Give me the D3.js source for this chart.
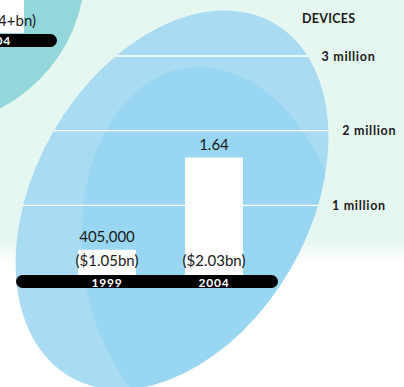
<!DOCTYPE html>
<html>
<head>
<meta charset="utf-8">
<script src="https://cdn.jsdelivr.net/npm/d3@7"></script>
<style>
  body { margin: 0; background: #fff; }
  text { font-family: Lato, "Open Sans", sans-serif; }
</style>
</head>
<body>
<svg></svg>
<script>
// chart values
var years = ["1999", "2004"];
var devices = [405000, 1640000];
var deviceLabels = ["405,000", "1.64"];
var revenueLabels = ["($1.05bn)", "($2.03bn)"];
var gridValues = [1e6, 2e6, 3e6];
var gridLabels = ["1 million", "2 million", "3 million"];

var svgWidth = 404,
    svgHeight = 387;

// big tilted ellipse behind the chart
var blob = { cx: 172, cy: 200, rx: 137, ry: 204, rot: 30 };

/**
 * x where a horizontal line at y leaves the tilted ellipse
 */
function blobEdges(y) {
    var t = blob.rot * Math.PI / 180,
        c = Math.cos(t), s = Math.sin(t),
        rx2 = blob.rx * blob.rx, ry2 = blob.ry * blob.ry,
        dy = y - blob.cy;
    var a = c * c / rx2 + s * s / ry2,
        b = 2 * dy * (c * s / rx2 - s * c / ry2),
        k = dy * dy * (s * s / rx2 + c * c / ry2) - 1;
    var d = Math.sqrt(b * b - 4 * a * k);
    return [blob.cx + (-b - d) / (2 * a), blob.cx + (-b + d) / (2 * a)];
}

var svg = d3.select('svg')
    .attr('width', svgWidth)
    .attr('height', svgHeight);

var defs = svg.append('defs');
var grad = defs.append('linearGradient')
    .attr('id', 'bg')
    .attr('x1', 0).attr('y1', 0).attr('x2', 0).attr('y2', 1);
grad.append('stop').attr('offset', '0.62').attr('stop-color', '#e6f7f1');
grad.append('stop').attr('offset', '0.68').attr('stop-color', '#ffffff');

defs.append('clipPath')
    .attr('id', 'blobClip')
    .append('ellipse')
    .attr('cx', blob.cx).attr('cy', blob.cy)
    .attr('rx', blob.rx).attr('ry', blob.ry)
    .attr('transform', 'rotate(' + blob.rot + ',' + blob.cx + ',' + blob.cy + ')');

svg.append('rect')
    .attr('width', svgWidth)
    .attr('height', svgHeight)
    .attr('fill', 'url(#bg)');

// leftover of the previous panel, top left (cut by the edge as in the original)
svg.append('circle')
    .attr('cx', -70).attr('cy', -30).attr('r', 155)
    .attr('fill', '#94d7db');
svg.append('rect')
    .attr('x', -10).attr('y', -5).attr('width', 34).attr('height', 38)
    .attr('fill', '#fff');
svg.append('text')
    .attr('x', 36).attr('y', 26)
    .attr('text-anchor', 'end')
    .attr('font-size', 15)
    .attr('fill', '#1a1a1a')
    .text('($4+bn)');
svg.append('rect')
    .attr('x', -120).attr('y', 34).attr('width', 177).attr('height', 13)
    .attr('rx', 6.5)
    .attr('fill', '#000');
svg.append('text')
    .attr('x', 11).attr('y', 45)
    .attr('text-anchor', 'end')
    .attr('font-size', 12)
    .attr('font-weight', 'bold')
    .attr('letter-spacing', 0.8)
    .attr('fill', '#fff')
    .text('2004');

// ellipses
svg.append('ellipse')
    .attr('cx', blob.cx).attr('cy', blob.cy)
    .attr('rx', blob.rx).attr('ry', blob.ry)
    .attr('transform', 'rotate(' + blob.rot + ',' + blob.cx + ',' + blob.cy + ')')
    .attr('fill', '#a9dbf3');
svg.append('g')
    .attr('clip-path', 'url(#blobClip)')
    .append('ellipse')
    .attr('cx', 214).attr('cy', 256)
    .attr('rx', 131).attr('ry', 190)
    .attr('transform', 'rotate(-8.5,214,256)')
    .attr('fill', '#98d6f2');

var x = d3.scaleBand()
    .domain(years)
    .range([53.5, 267.5])
    .paddingInner(0.458)
    .paddingOuter(0.229);
var y = d3.scaleLinear()
    .domain([0, 3e6])
    .range([280, 56]);

// gridlines, only inside the ellipse
svg.append('g')
    .attr('clip-path', 'url(#blobClip)')
    .selectAll('line')
    .data(gridValues)
    .enter().append('line')
    .attr('x1', 0).attr('x2', svgWidth)
    .attr('y1', d => y(d)).attr('y2', d => y(d))
    .attr('stroke', '#fff')
    .attr('stroke-width', 1.4);

svg.selectAll('.grid-label')
    .data(gridValues)
    .enter().append('text')
    .attr('class', 'grid-label')
    .attr('x', d => blobEdges(y(d))[1] + 14)
    .attr('y', d => y(d) + 4.5)
    .attr('font-size', 12.5)
    .attr('font-weight', 'bold')
    .attr('letter-spacing', 0.7)
    .attr('fill', '#1a1a1a')
    .text((d, i) => gridLabels[i]);

svg.append('text')
    .attr('x', 302).attr('y', 23)
    .attr('font-size', 12.5)
    .attr('font-weight', 'bold')
    .attr('letter-spacing', 0.3)
    .attr('fill', '#1a1a1a')
    .text('DEVICES');

// bars
svg.selectAll('.bar')
    .data(devices)
    .enter().append('rect')
    .attr('class', 'bar')
    .attr('x', (d, i) => x(years[i]))
    .attr('width', x.bandwidth())
    .attr('y', d => y(d))
    .attr('height', d => y(0) - y(d))
    .attr('fill', '#fff');

svg.selectAll('.val')
    .data(devices)
    .enter().append('text')
    .attr('class', 'val')
    .attr('x', (d, i) => x(years[i]) + x.bandwidth() / 2)
    .attr('y', d => y(d) - 8)
    .attr('text-anchor', 'middle')
    .attr('font-size', 15)
    .attr('fill', '#1a1a1a')
    .text((d, i) => deviceLabels[i]);

svg.selectAll('.rev')
    .data(revenueLabels)
    .enter().append('text')
    .attr('class', 'rev')
    .attr('x', (d, i) => x(years[i]) + x.bandwidth() / 2)
    .attr('y', 266)
    .attr('text-anchor', 'middle')
    .attr('font-size', 15)
    .attr('fill', '#1a1a1a')
    .text(d => d);

// black axis bar with years
svg.append('rect')
    .attr('x', x.range()[0] - 37.5)
    .attr('y', 275)
    .attr('width', x.range()[1] - x.range()[0] + 48)
    .attr('height', 13)
    .attr('rx', 6.5)
    .attr('fill', '#000');

svg.selectAll('.year')
    .data(years)
    .enter().append('text')
    .attr('class', 'year')
    .attr('x', d => x(d) + x.bandwidth() / 2)
    .attr('y', 286.5)
    .attr('text-anchor', 'middle')
    .attr('font-size', 12)
    .attr('font-weight', 'bold')
    .attr('letter-spacing', 0.8)
    .attr('fill', '#fff')
    .text(d => d);
</script>
</body>
</html>
